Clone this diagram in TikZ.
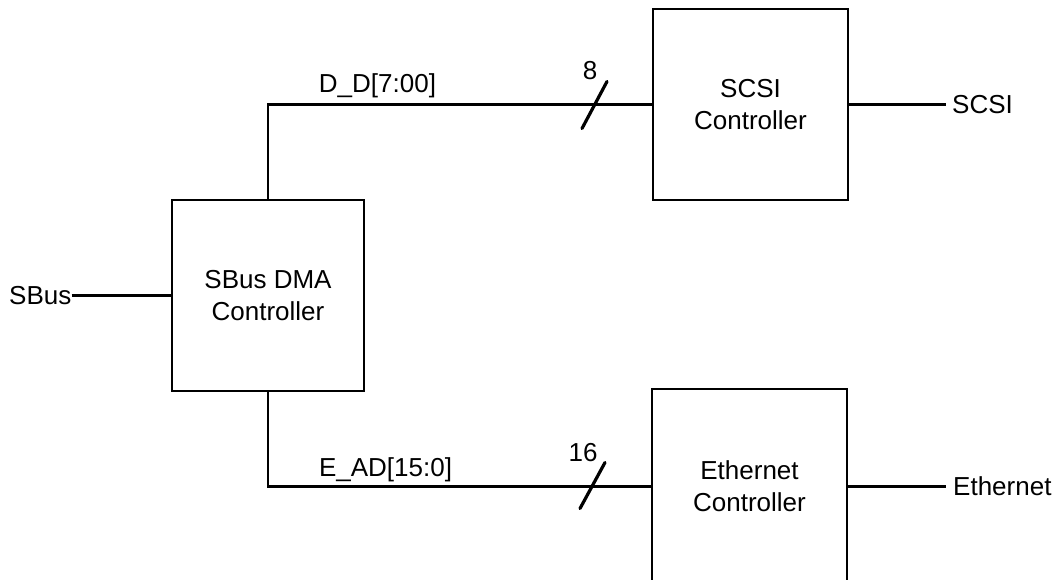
\documentclass[tikz,border=0pt]{standalone}
\usepackage{fontspec}
\setmainfont{Liberation Sans}
\begin{document}
\begin{tikzpicture}[x=1pt,y=-1pt,
  blk/.style={draw=black,line width=2.6pt,minimum width=195pt,minimum height=191pt,inner sep=0pt,align=center,font=\fontsize{26}{32}\selectfont},
  lbl/.style={inner sep=0pt,font=\fontsize{26}{32}\selectfont},
  wire/.style={line width=2.2pt},
  busmark/.style={line width=3.2pt,line cap=round}]
\useasboundingbox (0,0) rectangle (1058,579);
\node[blk,minimum width=192pt] (dma) at (268,295.5) {SBus DMA\\Controller};
\node[blk] (scsi) at (750.5,104.5) {SCSI\\Controller};
\node[blk,minimum height=195pt] (eth) at (749.5,486.5) {Ethernet\\Controller};
\node[lbl,anchor=west] (sbus) at (9,295.5) {SBus};
\node[lbl,anchor=west] (scsiout) at (952,104.5) {SCSI};
\node[lbl,anchor=west] (ethout) at (953,486.5) {Ethernet};
\node[lbl] (ddl) at (377.5,86) {D\_D[7:00]};
\node[lbl] (eadl) at (385.5,470) {E\_AD[15:0]};
\node[lbl] (n8) at (590,71) {8};
\node[lbl] (n16) at (583,453) {16};
\draw[wire] (sbus.east) -- (dma.west);
\draw[wire] (dma.north) |- (scsi.west);
\draw[wire] (dma.south) |- (eth.west);
\draw[wire] (scsi.east) -- ([xshift=-6pt]scsiout.west);
\draw[wire] (eth.east) -- ([xshift=-7pt]ethout.west);
\coordinate (s1) at (594.5,105);
\coordinate (s2) at (592.5,485.5);
\draw[busmark] ([shift={(-12.5,23.5)}]s1) -- ([shift={(12.5,-23.5)}]s1);
\draw[busmark] ([shift={(-12.5,23)}]s2) -- ([shift={(12.5,-23)}]s2);
\end{tikzpicture}
\end{document}
